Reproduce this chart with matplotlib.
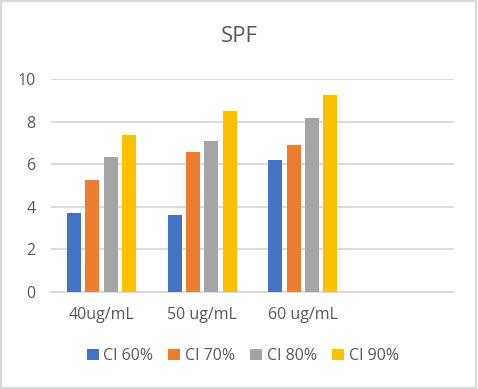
import numpy as np
import matplotlib
matplotlib.use('Agg')
import matplotlib.pyplot as plt
from matplotlib.patches import Rectangle

categories = ['40ug/mL', '50 ug/mL', '60 ug/mL', '']
series = ['CI 60%', 'CI 70%', 'CI 80%', 'CI 90%']
ci60 = [3.70, 3.61, 6.19, np.nan]
ci70 = [5.25, 6.57, 6.90, np.nan]
ci80 = [6.33, 7.09, 8.16, np.nan]
ci90 = [7.37, 8.49, 9.25, np.nan]
colors = ['#4472C4', '#ED7D31', '#A5A5A5', '#FFC000']

plt.rcParams['font.family'] = ['Open Sans', 'DejaVu Sans']
text_color = '#595959'

fig = plt.figure(figsize=(4.78, 3.89), dpi=100)
ax = fig.add_axes([51 / 478, 1 - 292 / 389, 403 / 478, 213 / 389])

x = np.arange(len(categories))
step = 0.182
width = 0.139
for i, (name, vals) in enumerate(zip(series, [ci60, ci70, ci80, ci90])):
    ax.bar(x + (i - 1.5) * step, vals, width=width, color=colors[i], label=name, zorder=3)

ax.set_xlim(-0.5, len(categories) - 0.5)
ax.set_ylim(0, 10)
ax.set_yticks(range(0, 11, 2))
ax.set_xticks(x)
ax.set_xticklabels(categories)
ax.yaxis.grid(True, color='#D9D9D9', linewidth=1.3, zorder=0)
ax.tick_params(axis='both', length=0, labelsize=11.5, colors=text_color)
ax.tick_params(axis='y', pad=11)
ax.tick_params(axis='x', pad=11)
for s in ['top', 'right', 'left']:
    ax.spines[s].set_visible(False)
ax.spines['bottom'].set_color('#D9D9D9')
ax.spines['bottom'].set_linewidth(1.3)

fig.text(0.5, 1 - 37 / 389, 'SPF', ha='center', va='center', fontsize=16, color=text_color)

leg = fig.legend(loc='center', bbox_to_anchor=(0.508, 1 - 356 / 389), ncol=4, frameon=False,
                 fontsize=11.5, handlelength=0.75, handleheight=0.75, handletextpad=0.3,
                 columnspacing=0.95)
for t in leg.get_texts():
    t.set_color(text_color)

fig.patches.append(Rectangle((0.002, 0.003), 0.994, 0.994, transform=fig.transFigure,
                             fill=False, edgecolor='#D9D9D9', linewidth=1.6))

plt.savefig('out.png', dpi=100)
plt.close()
